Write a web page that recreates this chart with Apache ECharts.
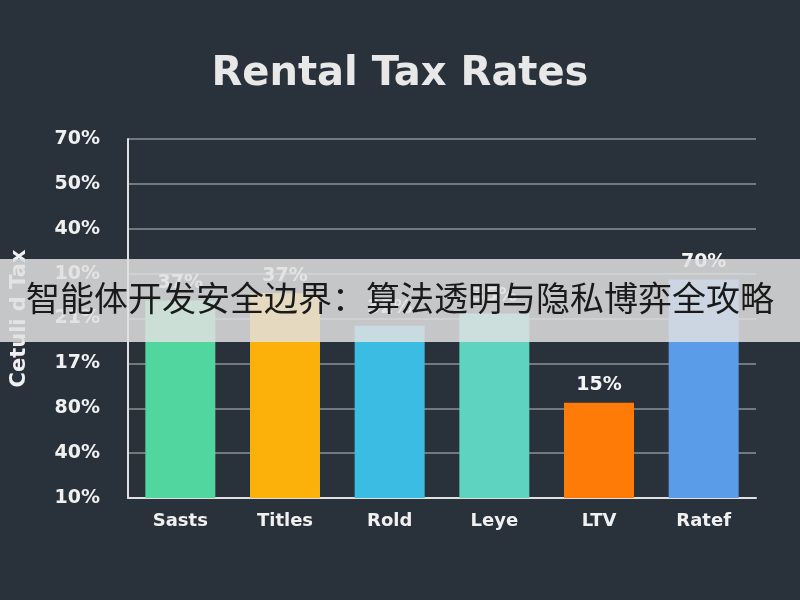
<!DOCTYPE html>
<html><head><meta charset="utf-8">
<script src="https://cdn.jsdelivr.net/npm/echarts@6/dist/echarts.min.js"></script>
<style>html,body{margin:0;padding:0;background:#29313b}#c{width:800px;height:600px}</style>
</head><body><div id="c"></div>
<script>
const categories = ["Sasts","Titles","Rold","Leye","LTV","Ratef"];
const values = [4.40, 4.56, 3.84, 4.11, 2.12, 4.87];
const barLabels = ["37%","37%","32%","35%","15%","70%"];
const tickLabels = ["10%","40%","80%","17%","21%","10%","40%","50%","70%"];
const colors = ["#52d6a0","#fbb00a","#3bbde3","#5dd3c0","#fd7b06","#5b9ce8"];
const chart = echarts.init(document.getElementById('c'));
chart.setOption({
  backgroundColor:"#29313b",
  title:{text:"Rental Tax Rates",left:"center",top:50,textStyle:{color:"#e8e8e8",fontSize:40,fontWeight:"bold",fontFamily:"DejaVu Sans"}},
  grid:{left:128,right:44,top:139,bottom:102},
  xAxis:{type:"category",data:categories,
    axisLine:{lineStyle:{color:"#e0e0e0",width:2}},axisTick:{show:false},
    axisLabel:{color:"#f0f0f0",fontSize:18,fontWeight:"bold",margin:14,fontFamily:"DejaVu Sans"}},
  yAxis:{type:"value",min:0,max:8,interval:1,
    name:"Cetuli d Tax",nameLocation:"middle",nameGap:98,nameRotate:90,
    nameTextStyle:{color:"#f0f0f0",fontSize:21,fontWeight:"bold",fontFamily:"DejaVu Sans"},
    axisLine:{show:true,lineStyle:{color:"#e0e0e0",width:2}},
    splitLine:{lineStyle:{color:"#8a9098",width:1.5}},
    axisLabel:{color:"#f0f0f0",fontSize:19,fontWeight:"bold",margin:28,fontFamily:"DejaVu Sans",
      formatter:(v)=>tickLabels[Math.round(v)]}},
  series:[{type:"bar",barWidth:70,
    data:values.map((v,i)=>({value:v,itemStyle:{color:colors[i]}})),
    label:{show:true,position:"top",distance:8,color:"#f5f5f5",fontSize:19,fontWeight:"bold",fontFamily:"DejaVu Sans",
      formatter:(p)=>barLabels[p.dataIndex]}}],
  graphic:[
    {type:"rect",left:0,top:259,shape:{width:800,height:83},style:{fill:"rgba(225,225,225,0.85)"},z:100},
    {type:"text",left:"center",top:281,style:{text:"智能体开发安全边界：算法透明与隐私博弈全攻略",fill:"#1a1a1a",fontSize:34,fontFamily:"Noto Sans CJK SC"},z:101}
  ]
});
</script></body></html>
